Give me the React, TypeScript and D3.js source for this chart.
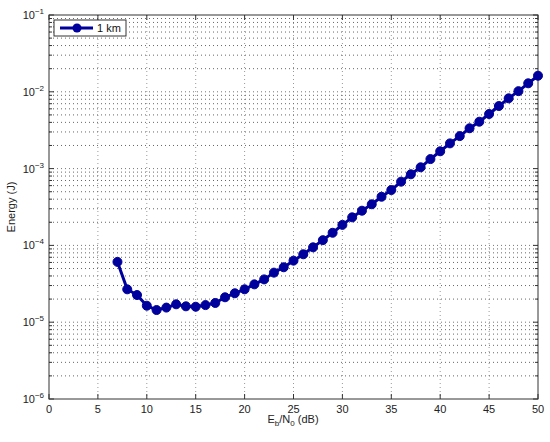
import React from "react";
import * as d3 from "d3";

const snrDb = [7, 8, 9, 10, 11, 12, 13, 14, 15, 16, 17, 18, 19, 20, 21, 22, 23, 24, 25, 26, 27, 28, 29, 30, 31, 32, 33, 34, 35, 36, 37, 38, 39, 40, 41, 42, 43, 44, 45, 46, 47, 48, 49, 50];
const energy = [6.1e-5, 2.68e-5, 2.26e-5, 1.64e-5, 1.44e-5, 1.55e-5, 1.71e-5, 1.61e-5, 1.59e-5, 1.67e-5, 1.78e-5, 2.11e-5, 2.38e-5, 2.68e-5, 3.11e-5, 3.61e-5, 4.42e-5, 5.19e-5, 6.33e-5, 7.66e-5, 9.44e-5, 1.17e-4, 1.46e-4, 1.85e-4, 2.32e-4, 2.83e-4, 3.43e-4, 4.3e-4, 5.26e-4, 6.76e-4, 8.43e-4, 1.04e-3, 1.33e-3, 1.68e-3, 2.13e-3, 2.65e-3, 3.35e-3, 4.08e-3, 5.14e-3, 6.53e-3, 8.22e-3, 1.02e-2, 1.29e-2, 1.62e-2];
const xTicks = [0, 5, 10, 15, 20, 25, 30, 35, 40, 45, 50];
const yExponents = [-6, -5, -4, -3, -2, -1];
const seriesName = "1 km";

const W = 550, H = 442;
const L = 49, R = 538, T = 15, B = 399;
const FONT = "'Liberation Sans', Arial, Helvetica, sans-serif";
const BLUE = "#00009c";

export default function App() {
  const x = d3.scaleLinear().domain([0, 50]).range([L, R]);
  const y = d3.scaleLog().domain([1e-6, 1e-1]).range([B, T]);
  const minor: number[] = [];
  for (let e = -6; e < -1; e++) for (let m = 2; m <= 9; m++) minor.push(m * Math.pow(10, e));
  const line = d3.line<number>().x((_, i) => x(snrDb[i])).y((d) => y(d));

  return (
    <svg width={W} height={H} style={{ position: "absolute", left: 0, top: 0, background: "#fff" }} fontFamily={FONT}>
      <rect x={0} y={0} width={W} height={H} fill="#fff" />
      {/* grid */}
      {xTicks.slice(1, -1).map((t) => (
        <line key={"gx" + t} x1={x(t)} x2={x(t)} y1={T} y2={B} stroke="#999" strokeDasharray="1,3" />
      ))}
      {yExponents.slice(1, -1).map((e) => (
        <line key={"gy" + e} x1={L} x2={R} y1={y(Math.pow(10, e))} y2={y(Math.pow(10, e))} stroke="#777" strokeDasharray="1,3" />
      ))}
      {minor.map((v, i) => (
        <line key={"gm" + i} x1={L} x2={R} y1={y(v)} y2={y(v)} stroke="#666" strokeDasharray="1,3" />
      ))}
      {/* ticks */}
      {xTicks.map((t) => (
        <g key={"tx" + t}>
          <line x1={x(t)} x2={x(t)} y1={B} y2={B - 5} stroke="#333" />
          <line x1={x(t)} x2={x(t)} y1={T} y2={T + 5} stroke="#333" />
          <text x={x(t)} y={413} fontSize={11} textAnchor="middle" fill="#222">{t}</text>
        </g>
      ))}
      {yExponents.map((e) => (
        <g key={"ty" + e}>
          <line x1={L} x2={L + 5} y1={y(Math.pow(10, e))} y2={y(Math.pow(10, e))} stroke="#333" />
          <line x1={R} x2={R - 5} y1={y(Math.pow(10, e))} y2={y(Math.pow(10, e))} stroke="#333" />
          <text x={44} y={y(Math.pow(10, e)) + 4} fontSize={11} textAnchor="end" fill="#222">
            10<tspan dy={-5} fontSize={8}>{"\u2212" + Math.abs(e)}</tspan>
          </text>
        </g>
      ))}
      {minor.map((v, i) => (
        <g key={"tm" + i}>
          <line x1={L} x2={L + 3} y1={y(v)} y2={y(v)} stroke="#333" />
          <line x1={R} x2={R - 3} y1={y(v)} y2={y(v)} stroke="#333" />
        </g>
      ))}
      <rect x={L} y={T} width={R - L} height={B - T} fill="none" stroke="#333" strokeWidth={1} />
      {/* data */}
      <path d={line(energy) || ""} fill="none" stroke={BLUE} strokeWidth={3} strokeLinejoin="round" />
      {energy.map((v, i) => (
        <circle key={"p" + i} cx={x(snrDb[i])} cy={y(v)} r={4.5} fill={BLUE} stroke={BLUE} strokeWidth={1} />
      ))}
      {/* legend */}
      <rect x={54} y={20} width={72} height={16} fill="#fff" stroke="#333" />
      <line x1={60} x2={93} y1={28} y2={28} stroke={BLUE} strokeWidth={3} />
      <circle cx={77} cy={28} r={4.5} fill={BLUE} />
      <text x={97} y={32} fontSize={11} fill="#111">{seriesName}</text>
      {/* axis labels */}
      <text x={293} y={423} fontSize={11} textAnchor="middle" fill="#222">
        E<tspan dy={3} fontSize={8}>b</tspan><tspan dy={-3}>/N</tspan><tspan dy={3} fontSize={8}>0</tspan><tspan dy={-3}> (dB)</tspan>
      </text>
      <text transform={`translate(15,${(T + B) / 2}) rotate(-90)`} fontSize={11} textAnchor="middle" fill="#222">Energy (J)</text>
    </svg>
  );
}
